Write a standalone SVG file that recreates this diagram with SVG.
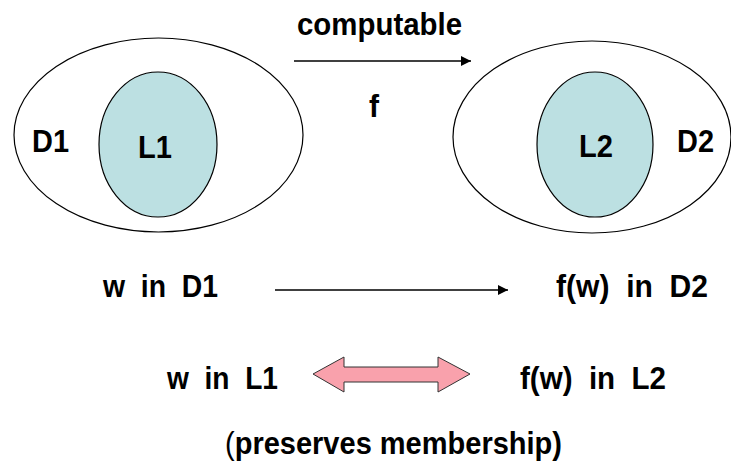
<svg xmlns="http://www.w3.org/2000/svg" width="731" height="464" viewBox="0 0 731 464">
<style>
  text { font-family: "Liberation Sans", Arial, sans-serif; font-weight: bold; font-size: 32px; fill: #000; white-space: pre; }
  .outer { fill: #fff; stroke: #000; stroke-width: 1.2; }
  .inner { fill: #BCE0E2; stroke: #000; stroke-width: 1.2; }
  .conn { stroke: #000; stroke-width: 1.3; fill: none; }
</style>
<defs>
  <marker id="ah" viewBox="0 0 10 10" refX="10" refY="5" markerUnits="userSpaceOnUse" markerWidth="10" markerHeight="10" orient="auto">
    <path d="M0,0 L10,5 L0,10 Z" fill="#000"/>
  </marker>
</defs>
<rect width="731" height="464" fill="#fff"/>
<g id="D1">
  <ellipse class="outer" cx="158.5" cy="135" rx="144.5" ry="97"/>
  <text x="32" y="152" textLength="37" lengthAdjust="spacingAndGlyphs">D1</text>
</g>
<g id="L1">
  <ellipse class="inner" cx="158" cy="144.5" rx="59" ry="72.5"/>
  <text x="138" y="158" textLength="34" lengthAdjust="spacingAndGlyphs">L1</text>
</g>
<g id="D2">
  <ellipse class="outer" cx="592" cy="137" rx="139" ry="96"/>
  <text x="677" y="152" textLength="37" lengthAdjust="spacingAndGlyphs">D2</text>
</g>
<g id="L2">
  <ellipse class="inner" cx="595" cy="144.5" rx="58" ry="72.5"/>
  <text x="579" y="157" textLength="34" lengthAdjust="spacingAndGlyphs">L2</text>
</g>
<g id="labels">
  <text x="297" y="35" textLength="165" lengthAdjust="spacingAndGlyphs">computable</text>
  <text x="369" y="117" textLength="10" lengthAdjust="spacingAndGlyphs">f</text>
  <text x="103" y="297" textLength="115" lengthAdjust="spacingAndGlyphs">w  in  D1</text>
  <text x="556" y="297" textLength="152" lengthAdjust="spacingAndGlyphs">f(w)  in  D2</text>
  <text x="167" y="389" textLength="111" lengthAdjust="spacingAndGlyphs">w  in  L1</text>
  <text x="520" y="389" textLength="146" lengthAdjust="spacingAndGlyphs">f(w)  in  L2</text>
  <text x="225" y="454" textLength="337" lengthAdjust="spacingAndGlyphs"><tspan font-weight="normal">(</tspan>preserves membership)</text>
</g>
<g id="connectors">
  <line class="conn" x1="294" y1="61" x2="471" y2="61" marker-end="url(#ah)"/>
  <line class="conn" x1="275" y1="290" x2="508" y2="290" marker-end="url(#ah)"/>
  <path d="M313,374 L344,357 L344,367 L438,367 L438,357 L470,374 L438,392 L438,382 L344,382 L344,392 Z" fill="#F9A1AC" stroke="#333" stroke-width="1"/>
</g>
</svg>
